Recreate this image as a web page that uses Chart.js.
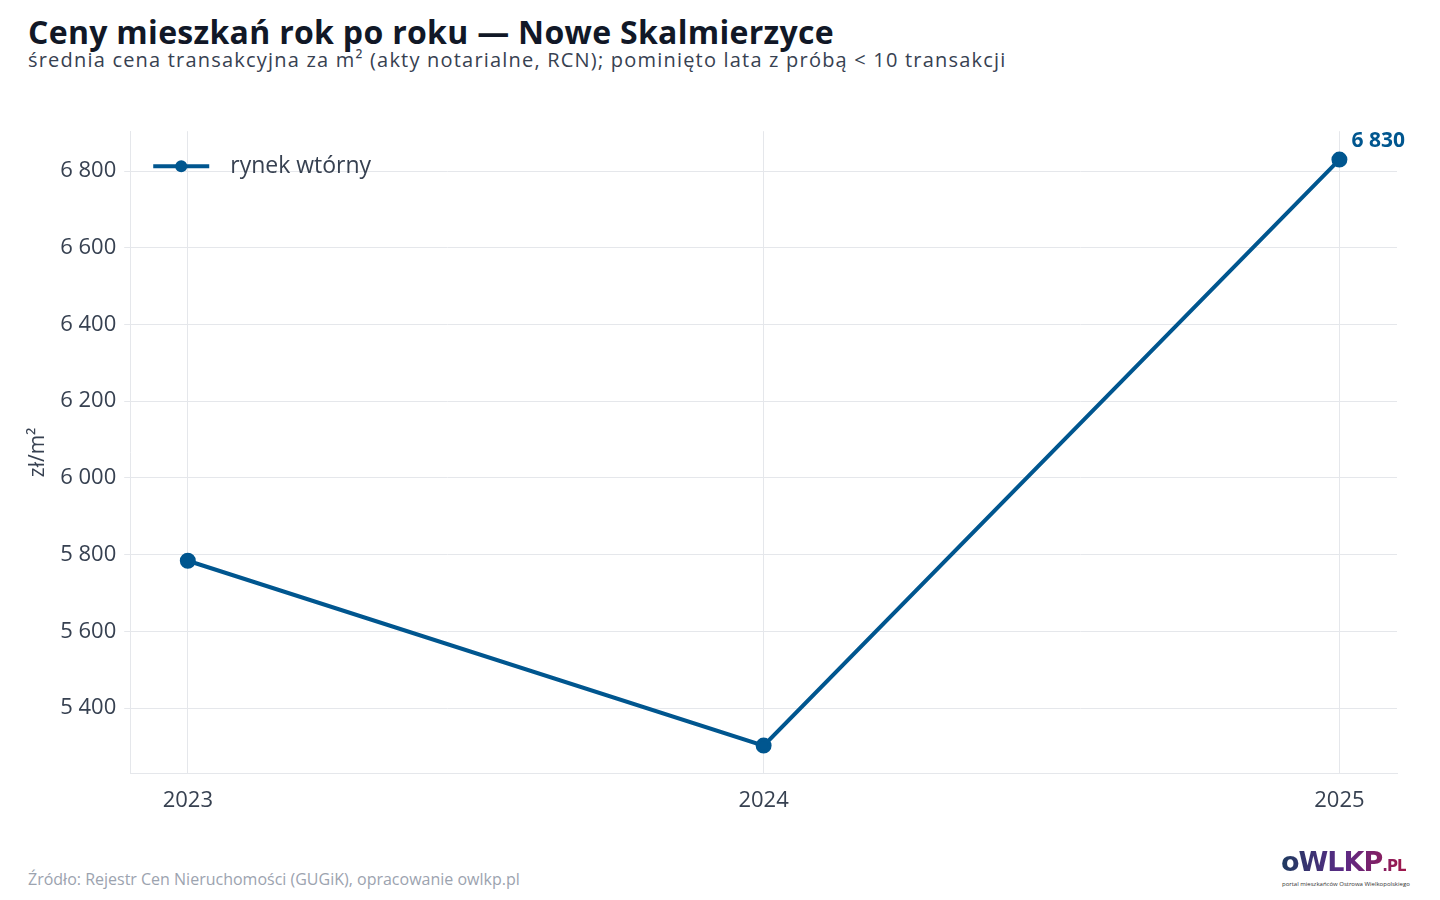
<!DOCTYPE html>
<html><head><meta charset="utf-8">
<script src="https://cdn.jsdelivr.net/npm/chart.js@4"></script>
<style>
body{margin:0;width:1440px;height:900px;background:#fff;font-family:"Open Sans",sans-serif;position:relative;overflow:hidden}
#t{position:absolute;left:28px;top:10px;font-size:32px;font-weight:700;color:#111827;letter-spacing:0.3px}
#s{position:absolute;left:28px;top:46px;font-size:20px;color:#374151;letter-spacing:1.2px}
#wrap{position:absolute;left:0;top:110px;width:1420px;height:730px}
#src{position:absolute;left:28px;top:868px;font-size:16px;color:#9ca3af}
#logo{position:absolute;left:1281px;top:848px;font-family:"DejaVu Sans";font-weight:900;font-size:27px;line-height:28px;background:linear-gradient(90deg,#1e3a5f,#5b2a86,#a0174a);-webkit-background-clip:text;color:transparent;letter-spacing:-1px}
#logo small{font-size:15px}
#tag{position:absolute;left:1282px;top:880px;font-size:6px;color:#333}
</style></head><body>
<div id="t">Ceny mieszkań rok po roku — Nowe Skalmierzyce</div>
<div id="s">średnia cena transakcyjna za m² (akty notarialne, RCN); pominięto lata z próbą &lt; 10 transakcji</div>
<div id="wrap"><canvas id="c"></canvas></div>
<div id="src">Źródło: Rejestr Cen Nieruchomości (GUGiK), opracowanie owlkp.pl</div>
<div id="logo">oWLKP<small>.PL</small></div>
<div id="tag">portal mieszkańców Ostrowa Wielkopolskiego</div>
<script>
const years = [2023, 2024, 2025];
const prices = [5784, 5302, 6830];
const yTicks = [5400, 5600, 5800, 6000, 6200, 6400, 6600, 6800];
const seriesName = 'rynek wtórny';
const blue = '#00568f';

const fmt = v => String(Math.round(v)).replace(/\B(?=(\d{3})+(?!\d))/g, ' ');

// value label on last point + legend drawn inside the plot
const extras = {
  id: 'extras',
  afterDatasetsDraw(chart) {
    const p = chart.getDatasetMeta(0).data[prices.length - 1];
    const a = chart.chartArea;
    const ctx = chart.ctx;
    ctx.save();
    ctx.font = 'bold 21px "Open Sans"';
    ctx.fillStyle = blue;
    ctx.textAlign = 'left';
    ctx.fillText(fmt(prices[prices.length - 1]), p.x + 12, p.y - 13);

    const ly = a.top + 35, lx = a.left + 23;
    ctx.strokeStyle = blue; ctx.lineWidth = 4;
    ctx.beginPath(); ctx.moveTo(lx, ly); ctx.lineTo(lx + 56, ly); ctx.stroke();
    ctx.beginPath(); ctx.arc(lx + 28, ly, 6, 0, Math.PI * 2); ctx.fillStyle = blue; ctx.fill();
    ctx.font = '23px "Open Sans"'; ctx.fillStyle = '#374151'; ctx.textBaseline = 'middle';
    ctx.fillText(seriesName, lx + 77, ly);
    ctx.restore();
  }
};

new Chart(document.getElementById('c'), {
  type: 'line',
  data: {
    datasets: [{
      label: seriesName,
      data: years.map((y, i) => ({ x: y, y: prices[i] })),
      borderColor: blue,
      backgroundColor: blue,
      borderWidth: 4,
      pointRadius: 6,
      pointHoverRadius: 6,
      tension: 0
    }]
  },
  options: {
    responsive: true,
    maintainAspectRatio: false,
    animation: false,
    layout: { padding: { left: 23, top: 11, right: 23, bottom: 12 } },
    plugins: { legend: { display: false }, tooltip: { enabled: false } },
    scales: {
      x: {
        type: 'linear', min: 2022.9, max: 2025.1,
        afterBuildTicks: s => { s.ticks = years.map(v => ({ value: v })); },
        ticks: { callback: v => String(v), font: { size: 22, family: 'Open Sans' }, color: '#374151', padding: 14 },
        grid: { color: '#e5e7eb', drawTicks: false },
        border: { color: '#e5e7eb' }
      },
      y: {
        min: 5229, max: 6904,
        afterBuildTicks: s => { s.ticks = yTicks.map(v => ({ value: v })); },
        ticks: { callback: v => fmt(v), font: { size: 22, family: 'Open Sans' }, color: '#374151', padding: 8 },
        grid: { color: '#e5e7eb', drawTicks: true, tickLength: 6 },
        border: { color: '#e5e7eb' },
        title: { display: true, text: 'zł/m²', font: { size: 21, family: 'Open Sans' }, color: '#374151', padding: 2 }
      }
    }
  },
  plugins: [extras]
});
</script>
</body></html>
